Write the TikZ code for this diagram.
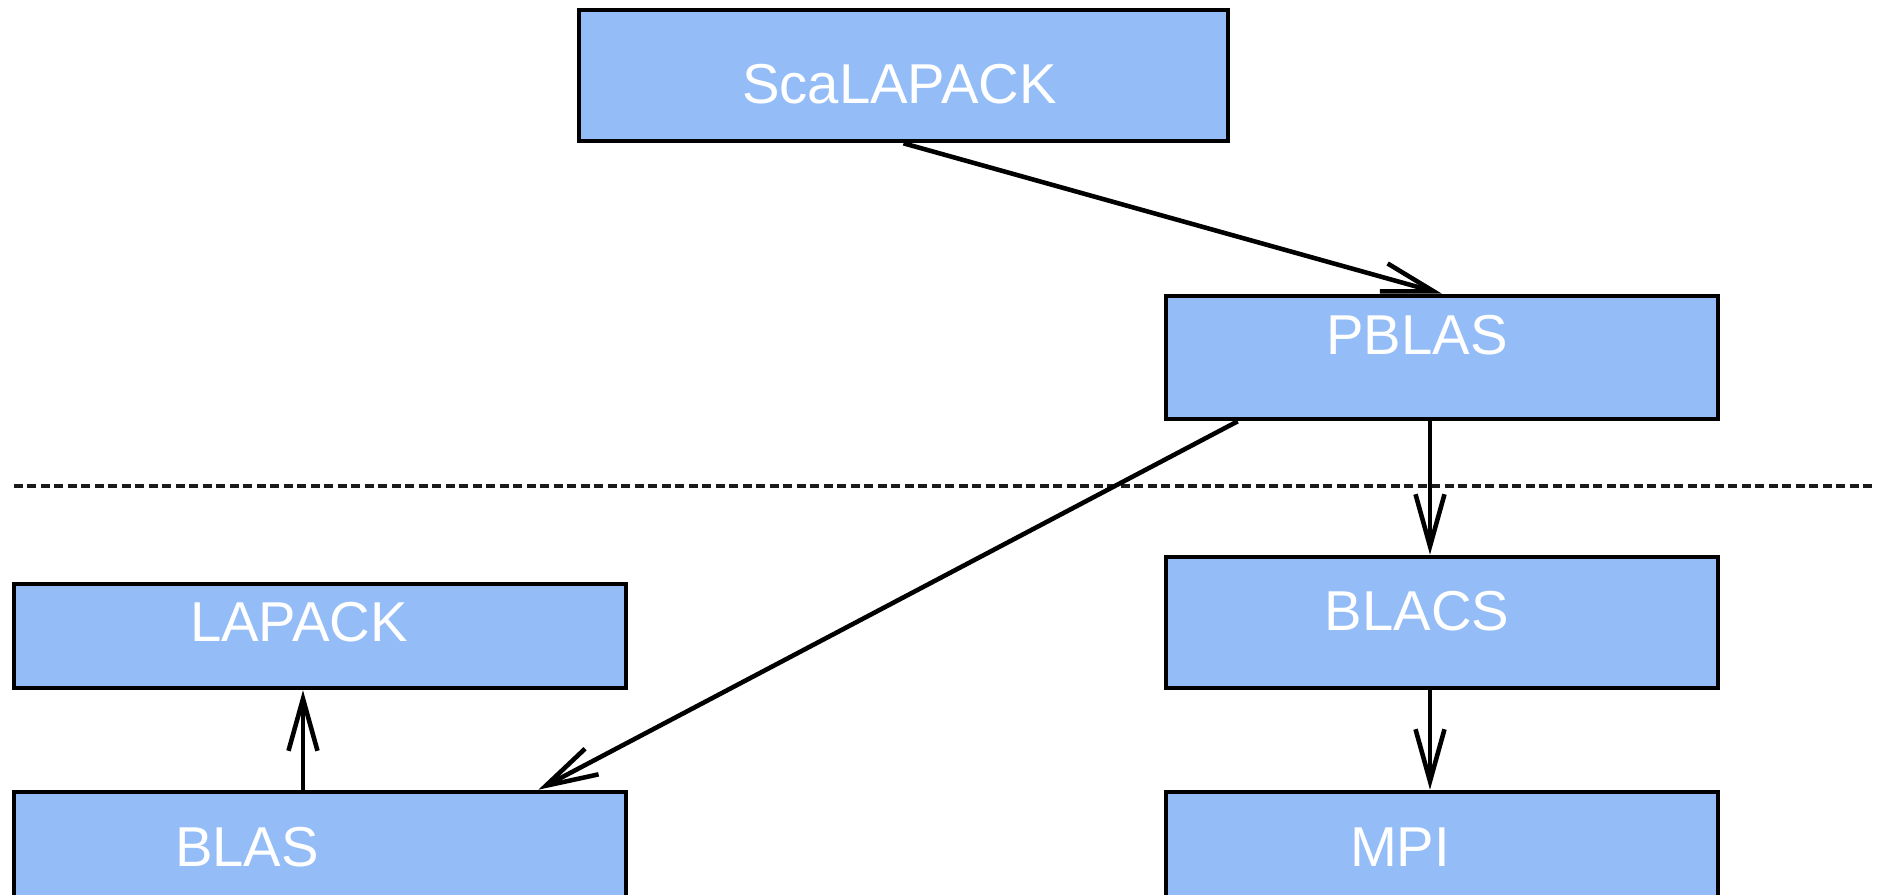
\documentclass[tikz,border=0pt]{standalone}
\usepackage{fontspec}
\setmainfont{Liberation Sans}
\usetikzlibrary{calc,arrows.meta}
\definecolor{lbox}{HTML}{94BDF7}
\definecolor{ldash}{HTML}{1A1A1A}

\tikzset{
  layer/.style={draw=black, fill=lbox, line width=1.3pt, inner sep=0pt},
  layertext/.style={text=white, font=\fontsize{16}{19}\selectfont},
  dep/.style={-{Straight Barb[length=5.2mm, width=2.9mm]}, line width=1.3pt},
}

\begin{document}
\begin{tikzpicture}[line width=0.9pt]
  \useasboundingbox (0,0) rectangle (18.87,-8.94);

  % parallel layer
  \node[layer, minimum width=6.49cm, minimum height=1.31cm] (scal) at (9.035,-0.755) {};
  \node[layer, minimum width=5.52cm, minimum height=1.23cm] (pbl) at (14.42,-3.575) {};

  % local / communication layer (the lowest boxes run off the page)
  \node[layer, minimum width=5.52cm, minimum height=1.31cm] (blacs) at (14.42,-6.225) {};
  \node[layer, minimum width=6.12cm, minimum height=1.04cm] (lap) at (3.20,-6.36) {};
  \node[layer, minimum width=6.12cm, minimum height=1.20cm] (blas) at (3.20,-8.52) {};
  \node[layer, minimum width=5.52cm, minimum height=1.20cm] (mpi) at (14.42,-8.52) {};

  % box labels, set a little off centre
  \node[layertext] (scal-t)  at ($(scal.center)+(-0.04,-0.085)$) {ScaLAPACK};
  \node[layertext] (pbl-t)   at ($(pbl.center)+(-0.25,0.22)$) {PBLAS};
  \node[layertext] (blacs-t) at ($(blacs.center)+(-0.25,0.11)$) {BLACS};
  \node[layertext] (lap-t)   at ($(lap.center)+(-0.21,0.14)$) {LAPACK};
  \node[layertext] (blas-t)  at ($(blas.center)+(-0.73,0.05)$) {BLAS};
  \node[layertext] (mpi-t)   at ($(mpi.center)+(-0.42,0.05)$) {MPI};

  % divider between the two layers
  \coordinate (divL) at (0.14,-4.86);
  \coordinate (divR) at (18.75,-4.86);
  \draw[ldash, line width=0.9pt, dash pattern=on 0.09cm off 0.045cm] (divL) -- (divR);

  % dependencies
  \draw[dep] (scal.south) -- (pbl.north);
  \draw[dep] ([xshift=0.74cm]pbl.south west) -- ([xshift=-0.90cm]blas.north east);
  \draw[dep] ([xshift=-0.12cm]pbl.south) -- ([xshift=-0.12cm]blacs.north);
  \draw[dep] ([xshift=-0.12cm]blacs.south) -- ([xshift=-0.12cm]mpi.north);
  \draw[dep] ([xshift=-0.17cm]blas.north) -- ([xshift=-0.17cm]lap.south);
\end{tikzpicture}
\end{document}
